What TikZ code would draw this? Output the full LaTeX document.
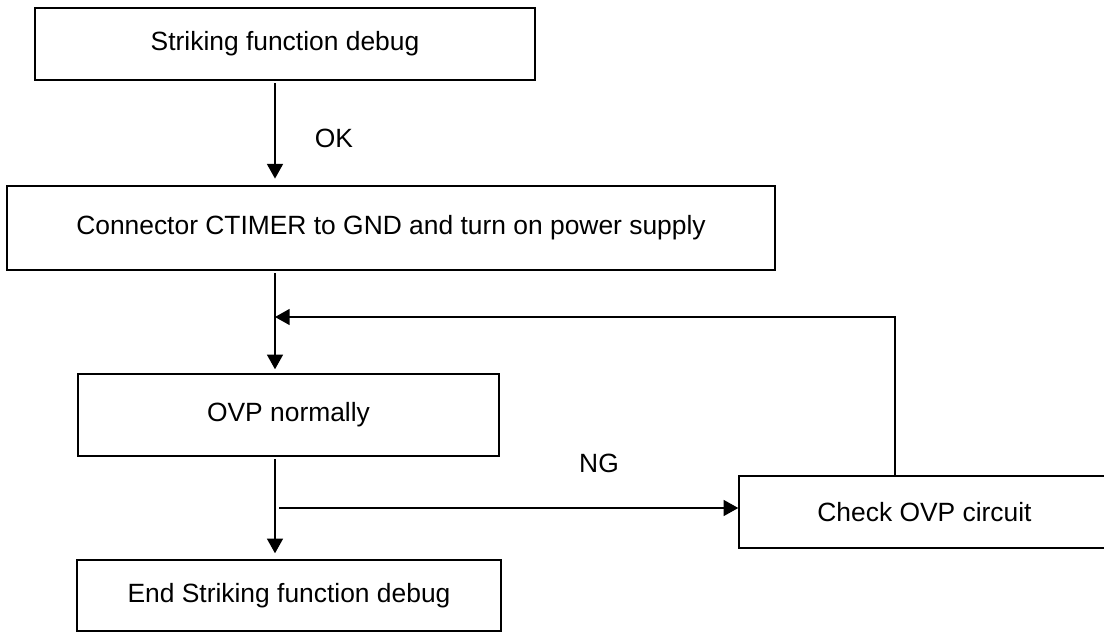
\documentclass[tikz,border=0pt]{standalone}
\usepackage{fontspec}
\setmainfont{Liberation Sans}
\usetikzlibrary{arrows.meta,calc}

\begin{document}
\begin{tikzpicture}[x=0.75pt,y=-0.75pt,>={Triangle[length=11pt,width=12pt]},line width=1.1pt]
\tikzstyle{block}=[rectangle,draw=black,line width=1.1pt,inner sep=0pt,font=\fontsize{19.8}{24}\selectfont]
\tikzstyle{tag}=[font=\fontsize{19.8}{24}\selectfont]
\clip (0,0) rectangle (1104,632);
\fill[white] (0,0) rectangle (1104,632);
\node[block,minimum width=375pt,minimum height=54pt] (a) at (285,44) {Striking function debug};
\node[block,minimum width=576pt,minimum height=63pt] (b) at (391,228) {Connector CTIMER to GND and turn on power supply};
\node[block,minimum width=315.75pt,minimum height=61.5pt] (c) at (288.5,415) {OVP normally};
\node[block,minimum width=318pt,minimum height=53.25pt] (d) at (289,595.5) {End Striking function debug};
\node[block,minimum width=278.25pt,minimum height=54pt] (e) at (924.5,512) {Check OVP circuit};
\node[tag] (ok) at (334,138) {OK};
\node[tag] (ng) at (599,463) {NG};
\coordinate (spine) at (275,0);
\coordinate (turn) at (895,317);
\coordinate (fork) at (279,508);
\draw[->,shorten <=2pt,shorten >=5pt] (a.south -| spine) -- (b.north -| spine);
\draw[->,shorten <=2pt,shorten >=3pt] (b.south -| spine) -- (c.north -| spine);
\draw[->,shorten <=2pt,shorten >=4.5pt] (c.south -| spine) -- (d.north -| spine);
\draw[->] (e.north -| turn) -- (turn) -- (turn -| spine);
\draw[->] (fork) -- (fork -| e.west);
\end{tikzpicture}
\end{document}
